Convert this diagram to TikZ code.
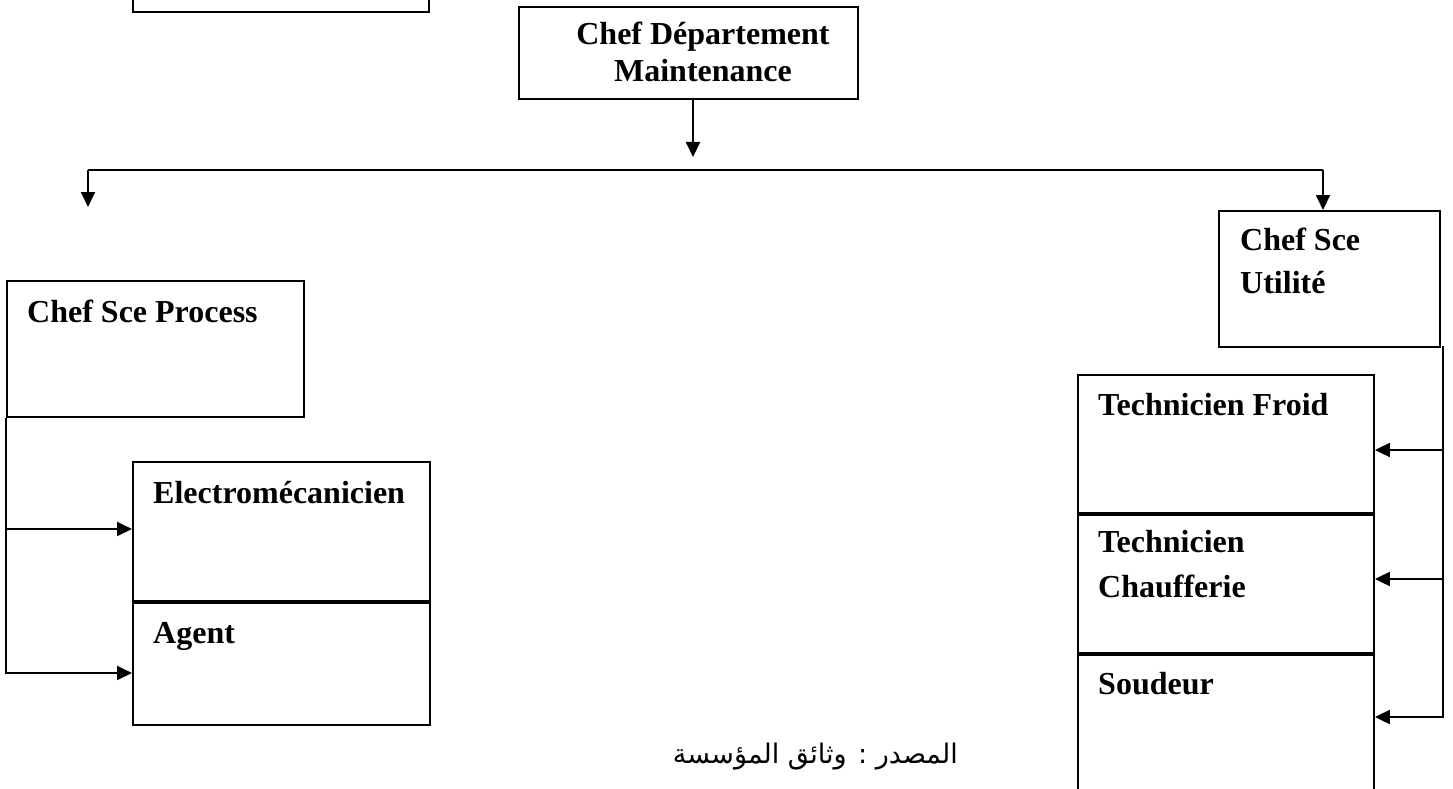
\documentclass[tikz,border=0pt]{standalone}
\usepackage{fontspec}
\setmainfont{Liberation Serif}
\newfontfamily\arabicfont[Script=Arabic]{DejaVu Sans}
\TeXXeTstate=1
\usetikzlibrary{arrows.meta,calc}
\begin{document}
\begin{tikzpicture}[x=1pt,y=-1pt,
  box/.style={draw,line width=1.9pt,rectangle,inner sep=0pt,anchor=north west},
  lbl/.style={font=\fontsize{32}{44}\selectfont\bfseries,inner sep=0pt,anchor=base west},
  link/.style={line width=1.9pt},
  arr/.style={line width=1.9pt,-{Triangle[length=15pt,width=14pt]}},
  ]
\useasboundingbox (0,0) rectangle (1453,789);
\clip (0,0) rectangle (1453,789);

% boxes
\node[box,minimum width=296pt,minimum height=60pt] (dg) at (132,-49) {};
\node[box,minimum width=339pt,minimum height=92pt] (dept) at (518,6) {};
\node[box,minimum width=297pt,minimum height=136pt] (proc) at (6,280) {};
\node[box,minimum width=297pt,minimum height=139pt] (elec) at (132,461) {};
\node[box,minimum width=297pt,minimum height=122pt] (agent) at (132,602) {};
\node[box,minimum width=221pt,minimum height=136pt] (util) at (1218,210) {};
\node[box,minimum width=296pt,minimum height=138pt] (froid) at (1077,374) {};
\node[box,minimum width=296pt,minimum height=138pt] (chauf) at (1077,514) {};
\node[box,minimum width=296pt,minimum height=180pt] (soud) at (1077,654) {};

% labels
\node[lbl,anchor=base] (dept-a) at (703,45) {Chef Département};
\node[lbl,anchor=base] (dept-b) at (703,82) {Maintenance};
\node[lbl] (proc-a) at ($(proc.north west)+(21,42)$) {Chef Sce Process};
\node[lbl] (elec-a) at ($(elec.north west)+(21,42)$) {Electromécanicien};
\node[lbl] (agent-a) at ($(agent.north west)+(21,41)$) {Agent};
\node[lbl] (util-a) at ($(util.north west)+(22,40)$) {Chef Sce};
\node[lbl] (util-b) at ($(util.north west)+(22,83)$) {Utilité};
\node[lbl] (froid-a) at ($(froid.north west)+(21,41)$) {Technicien Froid};
\node[lbl] (chauf-a) at ($(chauf.north west)+(21,38)$) {Technicien};
\node[lbl] (chauf-b) at ($(chauf.north west)+(21,83)$) {Chaufferie};
\node[lbl] (soud-a) at ($(soud.north west)+(21,40)$) {Soudeur};

% source line
\node[font=\arabicfont\fontsize{27}{30}\selectfont,anchor=base east,inner sep=0pt] (src)
  at (958,763) {\beginR المصدر : وثائق المؤسسة\endR};

% connectors from the department head
\coordinate (deptTip) at (693,157);
\coordinate (busL) at (88,170);
\coordinate (busR) at (1323,170);
\coordinate (leftTip) at (88,207);
\draw[arr] (dept.south -| deptTip) -- (deptTip);
\draw[link] (busL) -- (busR);
\draw[arr] (busL) -- (leftTip);
\draw[arr] (busR) -- (util.north -| busR);

% process service rail
\coordinate (yE) at (0,529);
\coordinate (yA) at (0,673);
\draw[arr] (proc.south west) |- (agent.west |- yA);
\draw[arr] (proc.south west |- yE) -- (elec.west |- yE);

% utility service rail
\coordinate (rail) at (1443,346);
\coordinate (yF) at (0,450);
\coordinate (yC) at (0,579);
\coordinate (yS) at (0,717);
\draw[arr] (rail) |- (soud.east |- yS);
\draw[arr] (rail |- yF) -- (froid.east |- yF);
\draw[arr] (rail |- yC) -- (chauf.east |- yC);
\end{tikzpicture}
\end{document}
